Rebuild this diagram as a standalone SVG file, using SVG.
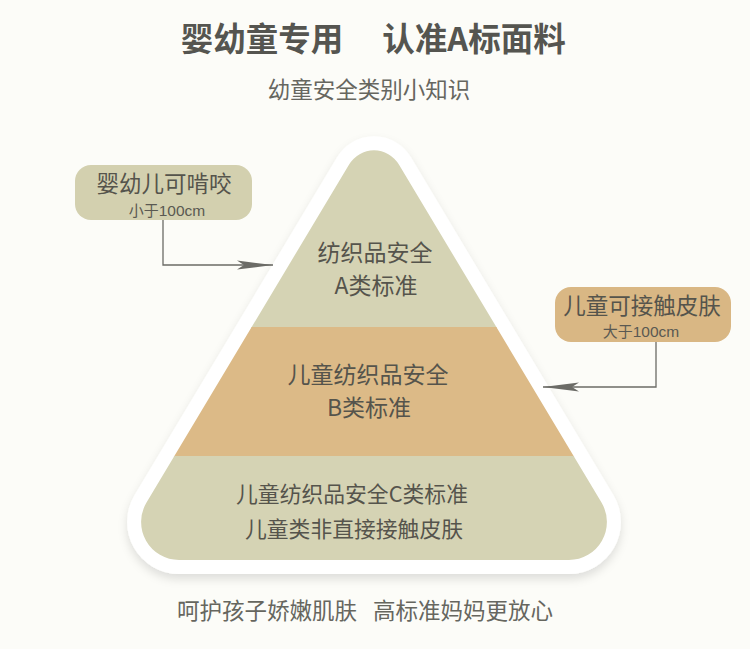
<svg xmlns="http://www.w3.org/2000/svg" width="750" height="649" viewBox="0 0 750 649">
<defs>
<style>
text{font-family:"Noto Sans CJK SC","Noto Sans",sans-serif;text-anchor:middle;}
.title{font-size:32.5px;font-weight:bold;fill:#555550;}
.sub{font-size:22.5px;fill:#66665f;}
.lvl{font-size:23px;fill:#55544c;}
.lvlc{font-size:21.8px;fill:#55544c;}
.bt{font-size:22.5px;fill:#55544c;}
.bs{font-size:15px;fill:#5a5952;}
.lat{font-family:"Liberation Sans",Arial,sans-serif;font-size:15.5px;}
.conn{fill:none;stroke:#6b6b66;stroke-width:1.3;}
</style>
<path id="tri" d="M349.1,164.5 A29,29 0 0 1 398.9,164.5 L601.5,502.5 A38,38 0 0 1 568.95,560 L179.05,560 A38,38 0 0 1 146.5,502.5 Z"/>
<clipPath id="triClip"><use href="#tri"/></clipPath>
<filter id="sh" x="-10%" y="-10%" width="120%" height="130%">
<feDropShadow dx="0" dy="5" stdDeviation="5" flood-color="#000" flood-opacity="0.12"/>
</filter>
<marker id="arr" viewBox="0 0 36 12" refX="36" refY="6" markerWidth="36" markerHeight="12" markerUnits="userSpaceOnUse" orient="auto">
<path d="M0,1.5 L36,6 L0,10.5 L7,6 Z" fill="#6b6b66"/>
</marker>
</defs>
<rect width="750" height="649" fill="#fcfcf8"/>
<text class="title" x="262" y="51">婴幼童专用</text>
<text class="title" x="474" y="51">认准A标面料</text>
<text class="sub" x="369" y="98">幼童安全类别小知识</text>
<g id="pyramid">
<use href="#tri" fill="#ffffff" stroke="#ffffff" stroke-width="28" stroke-linejoin="round" filter="url(#sh)"/>
<g clip-path="url(#triClip)">
<rect x="100" y="100" width="560" height="228" fill="#d5d3b4"/>
<rect x="100" y="327" width="560" height="130" fill="#dcba87"/>
<rect x="100" y="456" width="560" height="120" fill="#d5d3b4"/>
</g>
</g>
<g id="levelA">
<text class="lvl" x="375" y="261">纺织品安全</text>
<text class="lvl" x="376" y="294">A类标准</text>
</g>
<g id="levelB">
<text class="lvl" x="368" y="383">儿童纺织品安全</text>
<text class="lvl" x="369" y="416">B类标准</text>
</g>
<g id="levelC">
<text class="lvlc" x="352" y="502">儿童纺织品安全C类标准</text>
<text class="lvlc" x="354" y="537">儿童类非直接接触皮肤</text>
</g>
<g id="boxLeft">
<rect x="75" y="165" width="177" height="55" rx="16" fill="#d3d0af"/>
<text class="bt" x="164" y="192">婴幼儿可啃咬</text>
<text class="bs" x="167" y="216">小于<tspan class="lat">100cm</tspan></text>
</g>
<g id="boxRight">
<rect x="555" y="287" width="176" height="55" rx="16" fill="#d9b784"/>
<text class="bt" x="642" y="314">儿童可接触皮肤</text>
<text class="bs" x="641" y="337">大于<tspan class="lat">100cm</tspan></text>
</g>
<g id="connectors">
<path class="conn" d="M163,220 V265 H273" marker-end="url(#arr)"/>
<path class="conn" d="M656,342 V387 H543" marker-end="url(#arr)"/>
</g>
<g id="footer">
<text class="sub" x="267" y="619">呵护孩子娇嫩肌肤</text>
<text class="sub" x="463" y="619">高标准妈妈更放心</text>
</g>
</svg>
